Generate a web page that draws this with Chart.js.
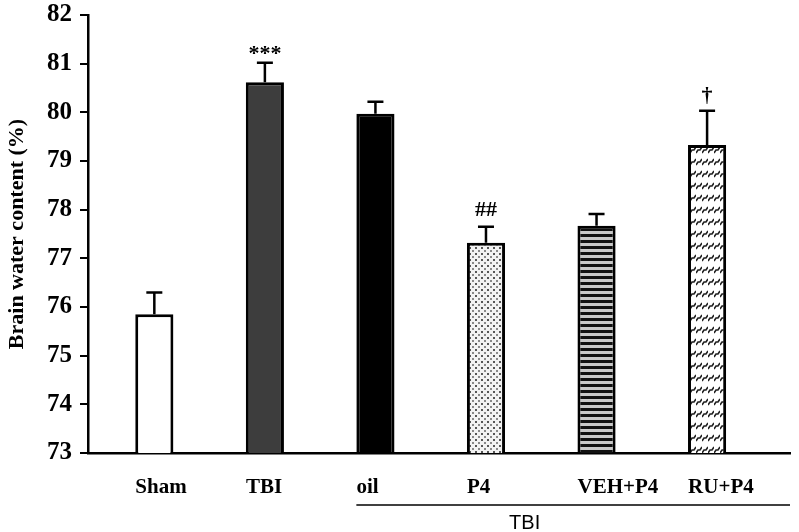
<!DOCTYPE html>
<html>
<head>
<meta charset="utf-8">
<script src="https://cdn.jsdelivr.net/npm/chart.js@4.4.1/dist/chart.umd.min.js"></script>
<style>
  html, body { margin: 0; padding: 0; background: #fff; }
  #wrap { width: 799px; height: 532px; position: relative; }
</style>
</head>
<body>
<div id="wrap"><canvas id="c" width="799" height="532"></canvas></div>
<script>
// ---- Data ----
const categories = ['Sham', 'TBI', 'oil', 'P4', 'VEH+P4', 'RU+P4'];
const waterContent = [75.85, 80.62, 79.97, 77.32, 77.67, 79.33];
const errorValues = [0.45, 0.40, 0.25, 0.33, 0.24, 0.70];
const significance = ['', '***', '', '##', '', '\u2020'];
const groupLabel = 'TBI';
const groupStart = 2; // index of 'oil'
const yTicks = [73, 74, 75, 76, 77, 78, 79, 80, 81, 82];

// ---- Patterns ----
function makeTile(w, h, draw) {
  const c = document.createElement('canvas');
  c.width = w; c.height = h;
  const g = c.getContext('2d');
  draw(g, w, h);
  return document.getElementById('c').getContext('2d').createPattern(c, 'repeat');
}
const dotPattern = makeTile(6, 6, (g, w, h) => {
  g.fillStyle = '#f2f2f2'; g.fillRect(0, 0, w, h);
  g.fillStyle = '#555'; g.fillRect(1, 1, 2, 2);
  g.fillStyle = '#888'; g.fillRect(4, 4, 2, 2);
});
const stripePattern = makeTile(4, 6, (g, w, h) => {
  g.fillStyle = '#c8c8c8'; g.fillRect(0, 0, w, h);
  g.fillStyle = '#111'; g.fillRect(0, 0, w, 3);
});
const wavePattern = makeTile(6, 12, (g, w, h) => {
  g.fillStyle = '#fff'; g.fillRect(0, 0, w, h);
  g.strokeStyle = '#222'; g.lineWidth = 1.6;
  g.beginPath(); g.moveTo(0, 9); g.lineTo(2, 6); g.lineTo(4, 6); g.lineTo(6, 3); g.stroke();
});
const fills = ['#ffffff', '#3d3d3d', '#000000', dotPattern, stripePattern, wavePattern];

// ---- Plugins ----
const errorBarPlugin = {
  id: 'errorBars',
  afterDatasetsDraw(chart) {
    const ctx = chart.ctx;
    const meta = chart.getDatasetMeta(0);
    const y = chart.scales.y;
    ctx.save();
    ctx.strokeStyle = '#000';
    ctx.lineWidth = 2.5;
    meta.data.forEach((bar, i) => {
      const top = y.getPixelForValue(waterContent[i] + errorValues[i]);
      ctx.beginPath();
      ctx.moveTo(bar.x, bar.y);
      ctx.lineTo(bar.x, top);
      ctx.moveTo(bar.x - 8, top);
      ctx.lineTo(bar.x + 8, top);
      ctx.stroke();
      const s = significance[i];
      if (s) {
        ctx.fillStyle = '#000';
        ctx.textAlign = 'center';
        ctx.textBaseline = 'middle';
        ctx.font = 'bold 22px "Liberation Serif", serif';
        const off = s === '***' ? 8 : (s === '##' ? 16 : 15);
        ctx.fillText(s, bar.x, top - off);
      }
    });
    ctx.restore();
  }
};
const groupPlugin = {
  id: 'groupLabel',
  afterDraw(chart) {
    const ctx = chart.ctx;
    const x = chart.scales.x;
    const meta = chart.getDatasetMeta(0);
    const b = meta.data[groupStart];
    const left = b.x - b.width / 2;
    const right = chart.chartArea.right;
    const yy = 505;
    ctx.save();
    ctx.strokeStyle = '#000';
    ctx.lineWidth = 1.5;
    ctx.beginPath(); ctx.moveTo(left, yy); ctx.lineTo(right, yy); ctx.stroke();
    ctx.fillStyle = '#000';
    ctx.font = '20px "Liberation Sans", Arial, sans-serif';
    ctx.textAlign = 'center';
    ctx.textBaseline = 'middle';
    ctx.fillText(groupLabel, x.getPixelForValue(3.35), 523);
    ctx.restore();
  }
};

new Chart(document.getElementById('c'), {
  type: 'bar',
  data: {
    datasets: [{
      data: waterContent.map((v, i) => ({ x: i, y: v })),
      backgroundColor: fills,
      borderColor: '#000',
      borderWidth: 3,
      barPercentage: 0.345,
      categoryPercentage: 1.0
    }]
  },
  options: {
    responsive: false,
    animation: false,
    devicePixelRatio: 1,
    layout: { padding: { top: 15, right: 9, left: 0, bottom: 0 } },
    plugins: { legend: { display: false }, tooltip: { enabled: false } },
    scales: {
      x: {
        type: 'linear',
        offset: false,
        min: -0.6,
        max: 5.75,
        afterBuildTicks(s) { s.ticks = categories.map((c, i) => ({ value: i })); },
        grid: { display: false, drawTicks: false, offset: false },
        border: { display: true, color: '#000', width: 2.5 },
        ticks: {
          color: '#000',
          padding: 22,
          align: 'start',
          labelOffset: -19,
          autoSkip: false,
          maxRotation: 0,
          callback: (v) => categories[v],
          font: { family: '"Liberation Serif", serif', size: 21, weight: 'bold' }
        },
        afterFit(s) { s.height = 79; s.paddingLeft = 0; s.paddingRight = 0; }
      },
      y: {
        min: 73, max: 82,
        afterBuildTicks(s) { s.ticks = yTicks.map(v => ({ value: v })); },
        grid: { display: true, drawOnChartArea: false, drawTicks: true, tickLength: 8, color: '#000', lineWidth: 2 },
        border: { display: true, color: '#000', width: 2.5 },
        ticks: {
          color: '#000',
          padding: 8,
          font: { family: '"Liberation Serif", serif', size: 25, weight: 'bold' }
        },
        title: {
          display: true,
          text: 'Brain water content (%)',
          color: '#000',
          padding: { top: 4, bottom: 0 },
          font: { family: '"Liberation Serif", serif', size: 22, weight: 'bold' }
        },
        afterFit(s) { s.width = 88; s.paddingTop = 0; s.paddingBottom = 0; }
      }
    }
  },
  plugins: [errorBarPlugin, groupPlugin]
});
</script>
</body>
</html>
